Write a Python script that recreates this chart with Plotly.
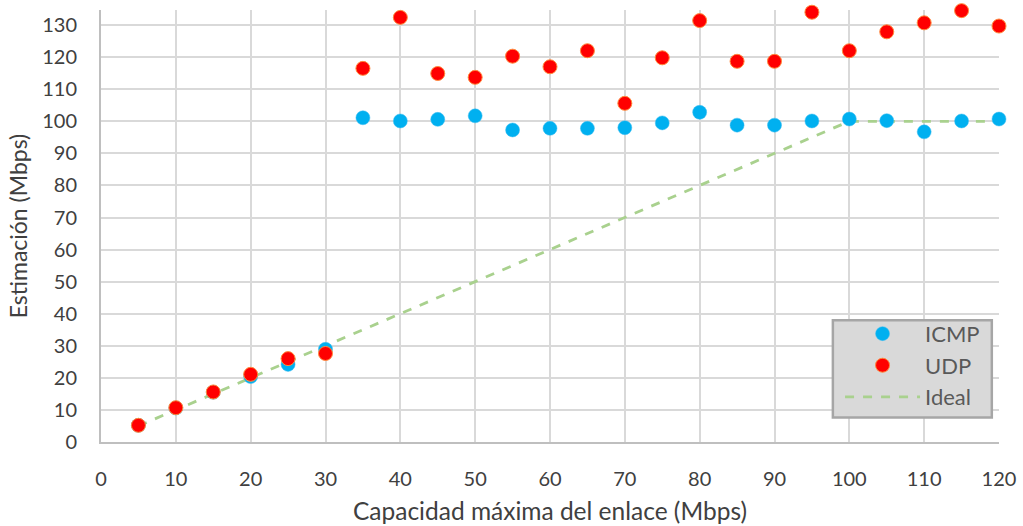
import plotly.graph_objects as go

capacidad = [5, 10, 15, 20, 25, 30, 35, 40, 45, 50, 55, 60, 65, 70, 75, 80,
             85, 90, 95, 100, 105, 110, 115, 120]
icmp = [5.2, 10.6, 15.5, 20.4, 24.2, 28.9, 101.1, 100.1, 100.6, 101.7, 97.3, 97.8,
        97.8, 98.0, 99.5, 102.8, 98.8, 98.8, 100.1, 100.7, 100.2, 96.7, 100.1, 100.7]
udp = [5.2, 10.7, 15.6, 21.1, 26.0, 27.6, 116.5, 132.4, 114.9, 113.7, 120.3, 117.0,
       122.0, 105.6, 119.8, 131.4, 118.7, 118.7, 134.0, 122.0, 127.9, 130.7, 134.5, 129.7]
ideal = [5, 10, 15, 20, 25, 30, 35, 40, 45, 50, 55, 60, 65, 70, 75, 80,
         85, 90, 95, 100, 100, 100, 100, 100]

FONT = "Lato"
TXT = "#404040"

fig = go.Figure()
fig.add_trace(go.Scatter(x=capacidad, y=ideal, mode="lines", name="Ideal",
                         cliponaxis=False, legendrank=3,
                         line=dict(color="#A9D18E", width=2.8, dash="dash")))
fig.add_trace(go.Scatter(x=capacidad, y=icmp, mode="markers", name="ICMP",
                         cliponaxis=False, legendrank=1,
                         marker=dict(color="#00B0F0", size=14,
                                     line=dict(color="#3DBDF0", width=0.5))))
fig.add_trace(go.Scatter(x=capacidad, y=udp, mode="markers", name="UDP",
                         cliponaxis=False, legendrank=2,
                         marker=dict(color="#FF0000", size=14,
                                     line=dict(color="#FF8A3D", width=1))))

# legend frame (drawn as a box so its size matches the original)
fig.add_shape(type="rect", xref="paper", yref="paper",
              x0=0.815, x1=0.992, y0=0.057, y1=0.282, layer="above",
              fillcolor="#D9D9D9", line=dict(color="#A6A6A6", width=2.5))

fig.update_layout(
    width=1023, height=526,
    margin=dict(l=101, r=24, t=10, b=84, autoexpand=False),
    paper_bgcolor="white", plot_bgcolor="white",
    font=dict(family=FONT, size=20, color=TXT),
    showlegend=True,
    legend=dict(
        x=0.823, y=0.299, xanchor="left", yanchor="top",
        bgcolor="rgba(0,0,0,0)", borderwidth=0,
        font=dict(family=FONT, size=22, color="#595959"),
        traceorder="normal", itemwidth=75,
    ),
    xaxis=dict(
        range=[0, 120], tickmode="linear", tick0=0, dtick=10,
        showgrid=True, gridcolor="#D9D9D9", gridwidth=1.5,
        showline=True, linecolor="#BFBFBF", linewidth=2,
        zeroline=False, ticks="", ticklabelstandoff=18, automargin=False,
        tickfont=dict(size=20, color=TXT),
        title=dict(text="Capacidad máxima del enlace (Mbps)",
                   font=dict(size=24.5, color=TXT), standoff=14),
    ),
    yaxis=dict(
        range=[0, 134.7], tickmode="linear", tick0=0, dtick=10,
        showgrid=True, gridcolor="#D9D9D9", gridwidth=1.5,
        showline=True, linecolor="#BFBFBF", linewidth=2,
        zeroline=False, ticks="", ticklabelstandoff=18, automargin=False,
        tickfont=dict(size=20, color=TXT),
        title=dict(text="Estimación (Mbps)",
                   font=dict(size=23, color=TXT), standoff=8),
    ),
)

fig.write_html("out.html")
